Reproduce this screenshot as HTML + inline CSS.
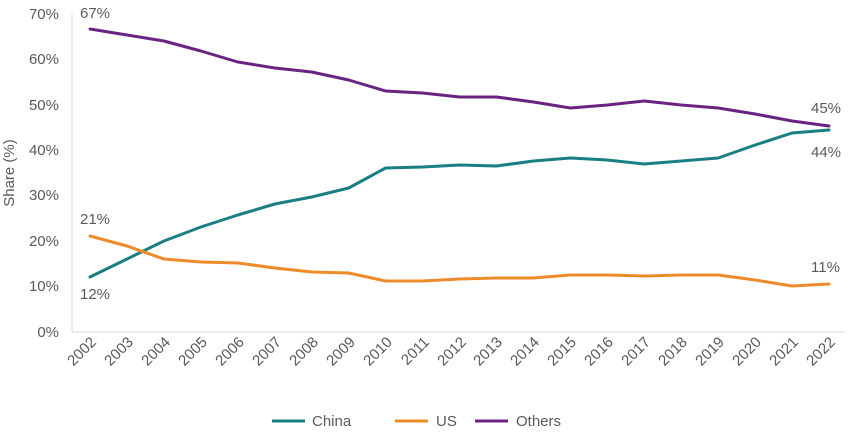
<!DOCTYPE html>
<html><head><style>body{margin:0;background:#fff}svg{display:block;font-family:"Liberation Sans",sans-serif}</style></head>
<body>
<svg width="850" height="433" viewBox="0 0 850 433">
<g fill="#595959" font-size="15" text-anchor="end">
<text x="59" y="19">70%</text><text x="59" y="64">60%</text><text x="59" y="110">50%</text><text x="59" y="155">40%</text><text x="59" y="200">30%</text><text x="59" y="246">20%</text><text x="59" y="291">10%</text><text x="59" y="337">0%</text>
</g>
<text transform="translate(14,173) rotate(-90)" fill="#595959" font-size="15" text-anchor="middle">Share (%)</text>
<line x1="72" y1="14" x2="72" y2="332" stroke="#d9d9d9"/>
<line x1="72" y1="332" x2="845" y2="332" stroke="#d9d9d9"/>
<g fill="#595959" font-size="15" text-anchor="end">
<text transform="translate(97,343) rotate(-45)">2002</text>
<text transform="translate(134,343) rotate(-45)">2003</text>
<text transform="translate(171,343) rotate(-45)">2004</text>
<text transform="translate(208,343) rotate(-45)">2005</text>
<text transform="translate(245,343) rotate(-45)">2006</text>
<text transform="translate(282,343) rotate(-45)">2007</text>
<text transform="translate(319,343) rotate(-45)">2008</text>
<text transform="translate(356,343) rotate(-45)">2009</text>
<text transform="translate(393,343) rotate(-45)">2010</text>
<text transform="translate(430,343) rotate(-45)">2011</text>
<text transform="translate(467,343) rotate(-45)">2012</text>
<text transform="translate(503,343) rotate(-45)">2013</text>
<text transform="translate(540,343) rotate(-45)">2014</text>
<text transform="translate(577,343) rotate(-45)">2015</text>
<text transform="translate(614,343) rotate(-45)">2016</text>
<text transform="translate(651,343) rotate(-45)">2017</text>
<text transform="translate(688,343) rotate(-45)">2018</text>
<text transform="translate(725,343) rotate(-45)">2019</text>
<text transform="translate(762,343) rotate(-45)">2020</text>
<text transform="translate(799,343) rotate(-45)">2021</text>
<text transform="translate(836,343) rotate(-45)">2022</text>
</g>
<g fill="none" stroke-width="3" stroke-linejoin="round" stroke-linecap="round">
<polyline id="o" stroke="#6a2383"/><polyline id="c" stroke="#1a7f82"/><polyline id="u" stroke="#ed8b2a"/>
</g>
<g fill="#595959" font-size="15">
<text x="80" y="18">67%</text><text x="80" y="224">21%</text><text x="80" y="299">12%</text>
<text x="811" y="113">45%</text><text x="811" y="157">44%</text><text x="811" y="272">11%</text>
<line x1="272" y1="421" x2="305" y2="421" stroke="#1a7f82" stroke-width="3"/><text x="312" y="426">China</text>
<line x1="395" y1="421" x2="428" y2="421" stroke="#ed8b2a" stroke-width="3"/><text x="436" y="426">US</text>
<line x1="475" y1="421" x2="508" y2="421" stroke="#6a2383" stroke-width="3"/><text x="516" y="426">Others</text>
</g>
<script>
var o=[29,35,41,51,62,68,72,80,91,93,97,97,102,108,105,101,105,108,114,121,126];
var c=[277,259,241,227,215,204,197,188,168,167,165,166,161,158,160,164,161,158,145,133,130];
var u=[236,246,259,262,263,268,272,273,281,281,279,278,278,275,275,276,275,275,280,286,284];
function X(i){return 90+i*36.95}
function p(a){return a.map(function(y,i){return X(i).toFixed(1)+","+y}).join(" ")}
document.getElementById("o").setAttribute("points",p(o));
document.getElementById("c").setAttribute("points",p(c));
document.getElementById("u").setAttribute("points",p(u));
</script>
</svg>
</body></html>
